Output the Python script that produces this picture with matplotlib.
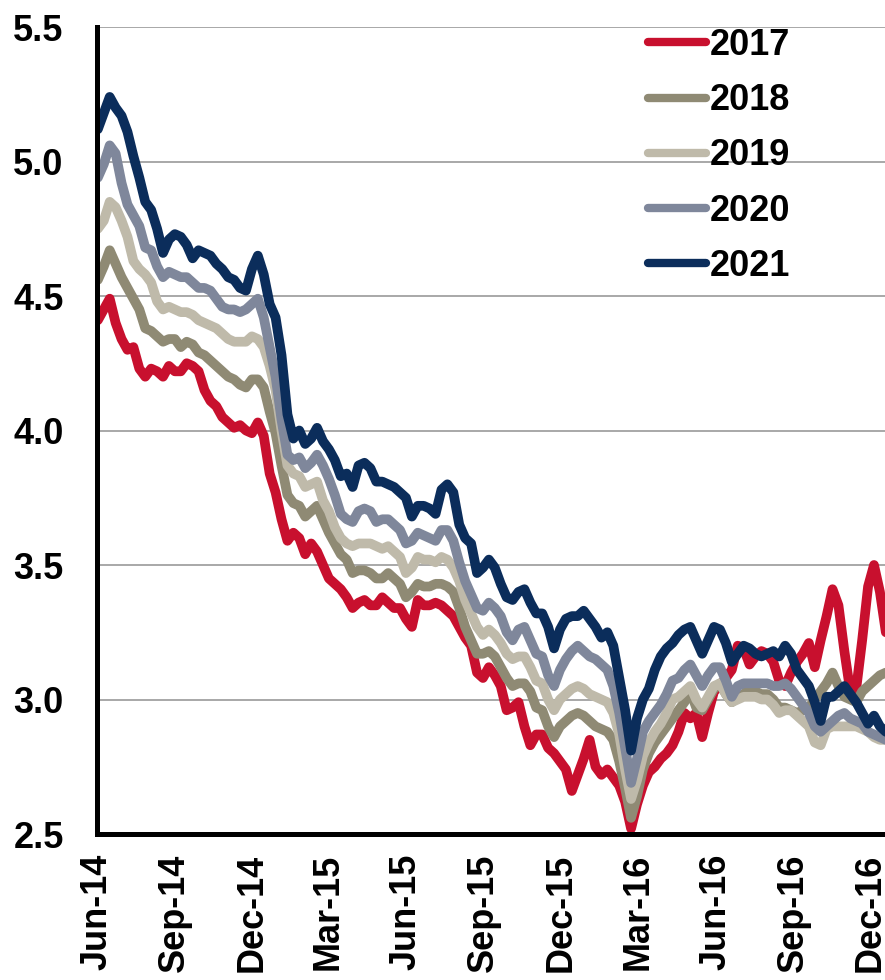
import matplotlib
matplotlib.use('Agg')
import matplotlib.pyplot as plt
import matplotlib.dates as mdates
import pandas as pd

# weekly observations, Jun-14 .. Dec-16
dates = pd.date_range('2014-06-02', periods=134, freq='7D')

y2017 = [4.41, 4.45, 4.49, 4.40, 4.34, 4.30, 4.31, 4.23, 4.20, 4.23,
         4.22, 4.20, 4.24, 4.22, 4.22, 4.25, 4.24, 4.22, 4.15, 4.11,
         4.09, 4.05, 4.03, 4.01, 4.02, 4.00, 3.99, 4.03, 3.98, 3.84,
         3.77, 3.67, 3.59, 3.62, 3.60, 3.54, 3.58, 3.55, 3.50, 3.45,
         3.43, 3.41, 3.38, 3.34, 3.36, 3.37, 3.35, 3.35, 3.38, 3.36,
         3.34, 3.34, 3.30, 3.27, 3.37, 3.35, 3.35, 3.36, 3.35, 3.33,
         3.31, 3.27, 3.23, 3.20, 3.10, 3.08, 3.12, 3.09, 3.05, 2.96,
         2.97, 2.99, 2.90, 2.83, 2.87, 2.87, 2.82, 2.80, 2.77, 2.74,
         2.66, 2.72, 2.78, 2.85, 2.75, 2.72, 2.74, 2.71, 2.68, 2.62,
         2.52, 2.61, 2.68, 2.73, 2.75, 2.78, 2.80, 2.83, 2.88, 2.95,
         2.93, 2.95, 2.86, 2.95, 3.03, 3.05, 3.08, 3.11, 3.20, 3.19,
         3.13, 3.16, 3.18, 3.17, 3.14, 3.07, 3.05, 3.10, 3.14, 3.17,
         3.21, 3.12, 3.22, 3.31, 3.41, 3.35, 3.18, 3.03, 3.04, 3.22,
         3.42, 3.50, 3.40, 3.25]

y2018 = [4.56, 4.61, 4.67, 4.62, 4.57, 4.53, 4.49, 4.45, 4.38, 4.37,
         4.35, 4.33, 4.34, 4.34, 4.31, 4.33, 4.32, 4.29, 4.28, 4.26,
         4.24, 4.22, 4.20, 4.19, 4.17, 4.16, 4.19, 4.19, 4.16, 4.07,
         3.99, 3.87, 3.76, 3.73, 3.72, 3.68, 3.70, 3.72, 3.67, 3.62,
         3.58, 3.54, 3.52, 3.47, 3.48, 3.48, 3.47, 3.45, 3.45, 3.47,
         3.45, 3.43, 3.38, 3.40, 3.43, 3.42, 3.42, 3.43, 3.43, 3.42,
         3.40, 3.34, 3.27, 3.22, 3.17, 3.17, 3.18, 3.16, 3.12, 3.08,
         3.05, 3.06, 3.06, 3.03, 2.97, 2.96, 2.90, 2.86, 2.90, 2.92,
         2.94, 2.95, 2.94, 2.92, 2.90, 2.89, 2.88, 2.85, 2.77, 2.67,
         2.56, 2.64, 2.74, 2.80, 2.84, 2.87, 2.90, 2.93, 2.96, 2.99,
         3.03, 2.97, 2.96, 3.00, 3.04, 3.06, 3.02, 2.99, 3.01, 3.02,
         3.04, 3.03, 3.02, 3.02, 3.00, 2.97, 2.97, 2.96, 2.95, 2.96,
         2.97, 3.00, 3.03, 3.06, 3.10, 3.05, 3.01, 3.00, 2.99, 3.03,
         3.05, 3.07, 3.09, 3.10]

y2019 = [4.75, 4.78, 4.85, 4.83, 4.78, 4.72, 4.63, 4.60, 4.58, 4.55,
         4.48, 4.45, 4.46, 4.45, 4.44, 4.44, 4.43, 4.41, 4.40, 4.39,
         4.38, 4.36, 4.34, 4.33, 4.33, 4.33, 4.35, 4.34, 4.31, 4.24,
         4.15, 4.00, 3.87, 3.84, 3.83, 3.79, 3.80, 3.81, 3.74, 3.70,
         3.64, 3.60, 3.58, 3.57, 3.58, 3.58, 3.58, 3.57, 3.56, 3.57,
         3.55, 3.53, 3.47, 3.49, 3.53, 3.52, 3.52, 3.51, 3.53, 3.52,
         3.49, 3.44, 3.37, 3.32, 3.27, 3.24, 3.26, 3.24, 3.21, 3.17,
         3.15, 3.16, 3.16, 3.12, 3.07, 3.06, 3.00, 2.96, 3.00, 3.02,
         3.04, 3.05, 3.04, 3.02, 3.01, 3.00, 2.99, 2.95, 2.87, 2.74,
         2.63, 2.70, 2.79, 2.84, 2.88, 2.91, 2.95, 3.00, 3.01, 3.03,
         3.05, 3.00, 2.97, 3.01, 3.05, 3.06, 3.02, 2.99, 3.00, 3.01,
         3.01, 3.01, 3.00, 3.00, 2.98, 2.95, 2.96, 2.96, 2.94, 2.92,
         2.90, 2.84, 2.83, 2.89, 2.90, 2.90, 2.90, 2.90, 2.90, 2.89,
         2.88, 2.86, 2.85, 2.85]

y2020 = [4.94, 4.99, 5.06, 5.03, 4.92, 4.84, 4.80, 4.76, 4.68, 4.67,
         4.61, 4.57, 4.59, 4.58, 4.57, 4.57, 4.55, 4.53, 4.53, 4.52,
         4.49, 4.46, 4.45, 4.45, 4.44, 4.45, 4.47, 4.49, 4.42, 4.31,
         4.20, 4.04, 3.91, 3.89, 3.90, 3.86, 3.88, 3.91, 3.87, 3.82,
         3.76, 3.69, 3.67, 3.66, 3.70, 3.71, 3.70, 3.66, 3.67, 3.67,
         3.65, 3.63, 3.58, 3.59, 3.62, 3.61, 3.60, 3.59, 3.63, 3.63,
         3.59, 3.51, 3.44, 3.39, 3.34, 3.33, 3.36, 3.34, 3.31, 3.25,
         3.22, 3.26, 3.27, 3.22, 3.17, 3.16, 3.09, 3.05, 3.11, 3.15,
         3.18, 3.20, 3.18, 3.16, 3.15, 3.13, 3.11, 3.05, 2.95, 2.82,
         2.69, 2.78, 2.88, 2.92, 2.95, 2.98, 3.02, 3.07, 3.08, 3.11,
         3.13, 3.09, 3.05, 3.09, 3.12, 3.12, 3.07, 3.01, 3.05, 3.06,
         3.06, 3.06, 3.06, 3.06, 3.05, 3.05, 3.06, 3.04, 3.01, 2.98,
         2.95, 2.90, 2.88, 2.90, 2.92, 2.94, 2.95, 2.93, 2.92, 2.91,
         2.88, 2.87, 2.86, 2.85]

y2021 = [5.12, 5.18, 5.24, 5.20, 5.17, 5.11, 5.02, 4.94, 4.85, 4.82,
         4.75, 4.66, 4.71, 4.73, 4.72, 4.69, 4.64, 4.67, 4.66, 4.65,
         4.62, 4.60, 4.57, 4.56, 4.53, 4.52, 4.60, 4.65, 4.58, 4.47,
         4.42, 4.28, 4.06, 3.97, 4.00, 3.95, 3.97, 4.01, 3.96, 3.93,
         3.89, 3.83, 3.84, 3.79, 3.87, 3.88, 3.86, 3.81, 3.81, 3.80,
         3.79, 3.77, 3.75, 3.68, 3.72, 3.72, 3.71, 3.69, 3.78, 3.80,
         3.77, 3.65, 3.60, 3.58, 3.47, 3.49, 3.52, 3.49, 3.43, 3.38,
         3.37, 3.40, 3.41, 3.36, 3.32, 3.32, 3.27, 3.19, 3.26, 3.30,
         3.31, 3.31, 3.33, 3.30, 3.27, 3.23, 3.25, 3.20, 3.08, 2.96,
         2.81, 2.93, 3.00, 3.04, 3.11, 3.16, 3.19, 3.21, 3.24, 3.26,
         3.27, 3.22, 3.17, 3.22, 3.27, 3.26, 3.21, 3.14, 3.17, 3.20,
         3.19, 3.17, 3.16, 3.17, 3.18, 3.16, 3.20, 3.17, 3.11, 3.08,
         3.05, 2.99, 2.92, 3.01, 3.01, 3.03, 3.05, 3.02, 2.99, 2.95,
         2.91, 2.94, 2.90, 2.88]

series = [('2017', y2017, '#C8102E'),
          ('2018', y2018, '#8F8A74'),
          ('2019', y2019, '#BFBAAA'),
          ('2020', y2020, '#7F879B'),
          ('2021', y2021, '#0B2D5B')]

plt.rcParams['font.family'] = ['Liberation Sans', 'DejaVu Sans']
plt.rcParams['font.weight'] = 'bold'

fig = plt.figure(figsize=(8.85, 9.8), dpi=100)
ax = fig.add_axes([97 / 885, 1 - 834 / 980, 1 - 97 / 885, 807 / 980])

for name, vals, col in series:
    ax.plot(dates, vals, color=col, linewidth=7, label=name,
            solid_capstyle='round', solid_joinstyle='round')

ax.set_ylim(2.5, 5.5)
ax.set_yticks([2.5, 3.0, 3.5, 4.0, 4.5, 5.0, 5.5])
ax.set_yticklabels(['2.5', '3.0', '3.5', '4.0', '4.5', '5.0', '5.5'])
ax.set_xlim(pd.Timestamp('2014-06-01'), pd.Timestamp('2016-12-18'))
ax.xaxis.set_major_locator(mdates.MonthLocator(bymonth=[3, 6, 9, 12]))
ax.xaxis.set_major_formatter(mdates.DateFormatter('%b-%y'))

ax.grid(axis='y', color='#9A9A9A', linewidth=1.2)
ax.set_axisbelow(True)
for s in ['top', 'right']:
    ax.spines[s].set_visible(False)
for s in ['left', 'bottom']:
    ax.spines[s].set_linewidth(3.6)
    ax.spines[s].set_color('black')

ax.tick_params(axis='y', length=0, pad=24, labelsize=26)
ax.tick_params(axis='x', length=0, pad=14, labelsize=26, labelrotation=90)

leg = ax.legend(loc='upper left', bbox_to_anchor=(648 / 885, 1 - 28 / 980),
                bbox_transform=fig.transFigure, frameon=False, fontsize=26,
                handlelength=1.6, handletextpad=0.1, labelspacing=0.56,
                borderpad=0, borderaxespad=0)
for h in leg.get_lines():
    h.set_linewidth(6)
    h.set_solid_capstyle('round')

plt.savefig('out.png', dpi=100)
